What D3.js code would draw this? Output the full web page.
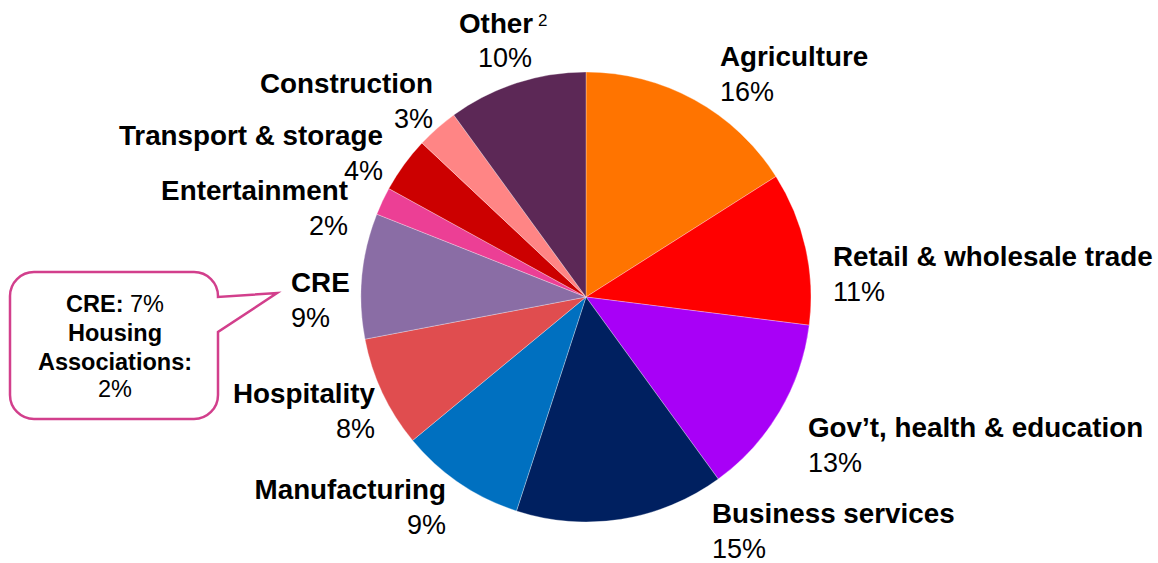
<!DOCTYPE html>
<html lang="en">
<head>
	<meta charset="utf-8">
	<title>Loan book by sector</title>
	<script src="https://d3js.org/d3.v7.min.js"></script>
	<style>
	body { margin: 0; background: #fff; }
	text { font-family: "Liberation Sans", Arial, sans-serif; fill: #000; }
	.name { font-weight: bold; font-size: 27.8px; }
	.pct { font-size: 27px; }
	.note { font-size: 23.5px; }
	</style>
</head>
<body>
	<div id="chart"></div>
	<script>
		// sectors clockwise from 12 o'clock
		let sectors = ["Agriculture", "Retail & wholesale trade", "Gov\u2019t, health & education",
			"Business services", "Manufacturing", "Hospitality", "CRE", "Entertainment",
			"Transport & storage", "Construction", "Other"];
		let shares = [16, 11, 13, 15, 9, 8, 9, 2, 4, 3, 10];
		let colours = ["#FF7400", "#FF0000", "#A800F7", "#002060", "#0070C0", "#E04D4F",
			"#8A6DA5", "#EC3F95", "#CC0000", "#FF8585", "#5C2856"];
		// CRE split shown in the callout
		let creSplit = [{ label: "CRE:", value: 7 }, { label: "Housing Associations:", value: 2 }];

		// where each label sits: name line then percent line
		let labelLayout = [
			{ x: 720, y: 66, anchor: "start" },
			{ x: 833, y: 266, anchor: "start" },
			{ x: 808, y: 437, anchor: "start" },
			{ x: 712, y: 523, anchor: "start" },
			{ x: 446, y: 499, anchor: "end" },
			{ x: 375, y: 403, anchor: "end" },
			{ x: 291, y: 292, anchor: "start" },
			{ x: 348, y: 200, anchor: "end" },
			{ x: 383, y: 145, anchor: "end" },
			{ x: 433, y: 93, anchor: "end" },
			{ x: 459, y: 33, anchor: "start" }
		];
		let lineGap = 34;

		let width = 1158, height = 563;
		let cx = 586, cy = 297, radius = 225;

		let svg = d3.select("#chart").append("svg")
			.attr("width", width)
			.attr("height", height);

		let pie = d3.pie().sort(null).value(d => d);
		let arc = d3.arc().innerRadius(0).outerRadius(radius);

		let g = svg.append("g").attr("transform", `translate(${cx},${cy})`);
		g.selectAll("path")
			.data(pie(shares))
			.enter()
			.append("path")
			.attr("d", arc)
			.attr("fill", (d, i) => colours[i])
			.attr("stroke", "#fff")
			.attr("stroke-opacity", 0.5)
			.attr("stroke-width", 0.6);

		// labels
		sectors.forEach((name, i) => {
			let p = labelLayout[i];
			svg.append("text")
				.attr("class", "name")
				.attr("x", p.x)
				.attr("y", p.y)
				.attr("text-anchor", p.anchor)
				.text(name);
			let pctX = p.x, pctAnchor = p.anchor;
			if (name === "Other") {
				// footnote marker
				svg.append("text")
					.attr("x", 538).attr("y", 26)
					.style("font-size", "17px")
					.text("2");
				pctX = 505; pctAnchor = "middle";
			}
			svg.append("text")
				.attr("class", "pct")
				.attr("x", pctX)
				.attr("y", p.y + lineGap + (name === "Other" ? 0 : 1))
				.attr("text-anchor", pctAnchor)
				.text(shares[i] + "%");
		});

		// callout bubble
		let bx0 = 10, by0 = 272, bx1 = 218, by1 = 419, r = 24;
		let tipX = 277, tipY = 293, pTop = 297, pBot = 332;
		let bubble = d3.path();
		bubble.moveTo(bx0 + r, by0);
		bubble.lineTo(bx1 - r, by0);
		bubble.arcTo(bx1, by0, bx1, by0 + r, r);
		bubble.lineTo(bx1, pTop);
		bubble.lineTo(tipX, tipY);
		bubble.lineTo(bx1, pBot);
		bubble.lineTo(bx1, by1 - r);
		bubble.arcTo(bx1, by1, bx1 - r, by1, r);
		bubble.lineTo(bx0 + r, by1);
		bubble.arcTo(bx0, by1, bx0, by1 - r, r);
		bubble.lineTo(bx0, by0 + r);
		bubble.arcTo(bx0, by0, bx0 + r, by0, r);
		bubble.closePath();
		svg.append("path")
			.attr("d", bubble.toString())
			.attr("fill", "#fff")
			.attr("stroke", "#D23F8C")
			.attr("stroke-width", 2.5);

		let mid = 115;
		let l1 = svg.append("text").attr("class", "note").attr("x", mid).attr("y", 312).attr("text-anchor", "middle");
		l1.append("tspan").style("font-weight", "bold").text(creSplit[0].label);
		l1.append("tspan").text(" " + creSplit[0].value + "%");
		let words = creSplit[1].label.split(" ");
		svg.append("text").attr("class", "note").attr("x", mid).attr("y", 341)
			.attr("text-anchor", "middle").style("font-weight", "bold").text(words[0]);
		svg.append("text").attr("class", "note").attr("x", mid).attr("y", 370)
			.attr("text-anchor", "middle").style("font-weight", "bold").text(words[1]);
		svg.append("text").attr("class", "note").attr("x", mid).attr("y", 397)
			.attr("text-anchor", "middle").text(creSplit[1].value + "%");
	</script>
</body>
</html>
